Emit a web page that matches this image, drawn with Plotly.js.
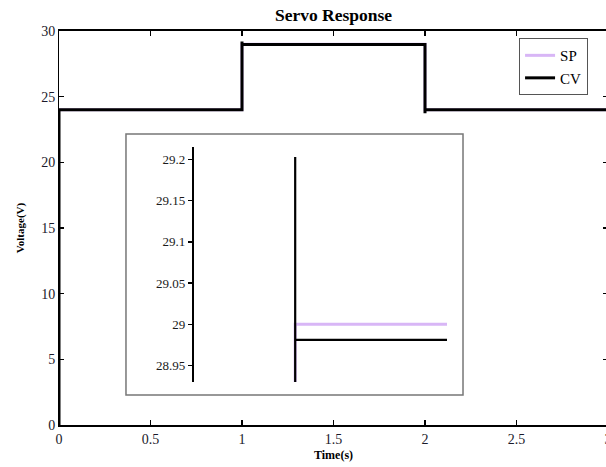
<!DOCTYPE html>
<html>
<head>
<meta charset="utf-8">
<script src="https://cdn.plot.ly/plotly-3.0.1.min.js"></script>
<style>
  html, body { margin: 0; padding: 0; overflow: hidden; background: #fff; }
  #chart { width: 620px; height: 467px; }
</style>
</head>
<body>
<div id="chart"></div>
<script>
// Set point (SP) and controlled variable (CV) step responses
const timeSP = [0, 1, 1, 2, 2, 3];
const voltSP = [24, 24, 29, 29, 24, 24];

const timeCV = [0, 0, 1, 1, 1, 2, 2, 2, 3];
const voltCV = [0, 24, 24, 29.203, 28.981, 28.981, 23.74, 24, 24];

// Axis ticks
const xTickVals = [0, 0.5, 1, 1.5, 2, 2.5, 3];
const xTickText = ['0', '0.5', '1', '1.5', '2', '2.5', '3'];
const yTickVals = [0, 5, 10, 15, 20, 25, 30];
const yTickText = ['0', '5', '10', '15', '20', '25', '30'];
const insetTickVals = [28.95, 29, 29.05, 29.1, 29.15, 29.2];
const insetTickText = ['28.95', '29', '29.05', '29.1', '29.15', '29.2'];

const serif = 'Liberation Serif, Times New Roman, serif';
const spColor = '#d8b6f6';

const traces = [
  { x: timeSP, y: voltSP, name: 'SP', mode: 'lines', line: { color: spColor, width: 3 }, xaxis: 'x', yaxis: 'y' },
  { x: timeCV, y: voltCV, name: 'CV', mode: 'lines', line: { color: '#000', width: 3 }, xaxis: 'x', yaxis: 'y' },
  // zoomed view around the step at t = 1 s
  { x: timeSP, y: voltSP, name: 'SP', mode: 'lines', line: { color: spColor, width: 3 }, xaxis: 'x2', yaxis: 'y2', showlegend: false },
  { x: timeCV, y: voltCV, name: 'CV', mode: 'lines', line: { color: '#000', width: 2.2 }, xaxis: 'x2', yaxis: 'y2', showlegend: false }
];

const layout = {
  width: 620,
  height: 467,
  margin: { l: 59, r: 12, t: 31, b: 42 },
  paper_bgcolor: '#fff',
  plot_bgcolor: '#fff',
  font: { family: serif, color: '#1a1a1a', size: 14 },
  title: {
    text: '<b>Servo Response</b>',
    font: { family: serif, size: 17.5, color: '#000' },
    x: 0.5, xanchor: 'center', xref: 'paper',
    y: 0.968, yanchor: 'middle', yref: 'container'
  },
  showlegend: true,
  legend: {
    x: 0.838, y: 0.982, xanchor: 'left', yanchor: 'top',
    bordercolor: '#555', borderwidth: 1, bgcolor: '#fff',
    font: { family: serif, size: 15, color: '#000' },
    tracegroupgap: 0, itemwidth: 30
  },
  xaxis: {
    range: [0, 3],
    tickvals: xTickVals, ticktext: xTickText,
    ticks: 'inside', ticklen: 5, tickwidth: 1.5, tickcolor: '#000',
    showline: true, linecolor: '#000', linewidth: 2, mirror: 'ticks',
    showgrid: false, zeroline: false,
    tickfont: { family: serif, size: 14, color: '#1a1a2a' },
    title: { text: '<b>Time(s)</b>', font: { family: serif, size: 12, color: '#000' }, standoff: 5 }
  },
  yaxis: {
    range: [0, 30],
    tickvals: yTickVals, ticktext: yTickText,
    ticks: 'inside', ticklen: 5, tickwidth: 1.5, tickcolor: '#000',
    showline: true, linecolor: '#000', linewidth: 1, mirror: 'ticks',
    showgrid: false, zeroline: false,
    tickfont: { family: serif, size: 14, color: '#1a1a2a' },
    title: { text: '<b>Voltage(V)</b>', font: { family: serif, size: 11, color: '#000' }, standoff: 14 }
  },
  xaxis2: {
    domain: [0.2459, 0.7067],
    anchor: 'y2',
    range: [0.6, 1.6],
    visible: false
  },
  yaxis2: {
    domain: [0.1091, 0.7056],
    anchor: 'x2',
    range: [28.93, 29.215],
    tickvals: insetTickVals, ticktext: insetTickText,
    ticks: 'outside', ticklen: 4, tickwidth: 1.5, tickcolor: '#000',
    showline: true, linecolor: '#000', linewidth: 2.2,
    showgrid: false, zeroline: false,
    tickfont: { family: serif, size: 13, color: '#1a1a1a' }
  },
  shapes: [
    {
      type: 'rect', xref: 'paper', yref: 'paper', layer: 'below',
      x0: 0.122, x1: 0.7359, y0: 0.0761, y1: 0.7386,
      line: { color: '#777', width: 1.5 }, fillcolor: '#fff'
    }
  ]
};

Plotly.newPlot('chart', traces, layout, { displayModeBar: false, staticPlot: true });
</script>
</body>
</html>
